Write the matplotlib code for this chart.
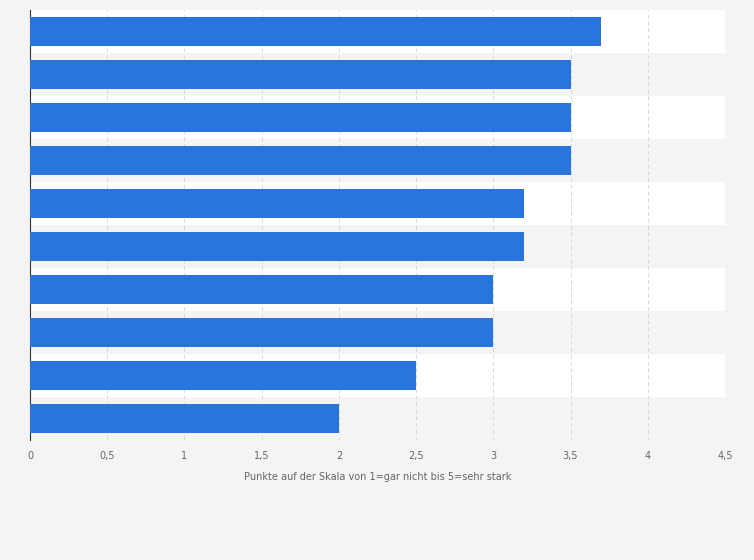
import matplotlib
matplotlib.use("Agg")
import matplotlib.pyplot as plt

values = [3.7, 3.5, 3.5, 3.5, 3.2, 3.2, 3.0, 3.0, 2.5, 2.0]
xticks = [0, 0.5, 1, 1.5, 2, 2.5, 3, 3.5, 4, 4.5]
xticklabels = ["0", "0,5", "1", "1,5", "2", "2,5", "3", "3,5", "4", "4,5"]
xlabel = "Punkte auf der Skala von 1=gar nicht bis 5=sehr stark"

fig = plt.figure(figsize=(7.54, 5.60), dpi=100)
fig.patch.set_facecolor("#f4f4f4")
ax = fig.add_axes([30/754, 1-440/560, 695/754, 430/560])
ax.set_facecolor("white")
n = len(values)
ys = list(range(n))
for i in ys:
    if i % 2 == 1:
        ax.axhspan(i-0.5, i+0.5, color="#f4f4f4", zorder=0, lw=0)
ax.barh(ys, values, height=0.68, color="#2876dd", zorder=3)
ax.set_ylim(n-0.5, -0.5)
ax.set_xlim(0, 4.5)
ax.set_xticks(xticks)
ax.set_xticklabels(xticklabels, fontsize=7, color="#666666")
ax.set_yticks([])
ax.tick_params(axis="x", length=0, pad=8)
ax.grid(axis="x", color="#d8d8d8", linestyle=(0, (4, 3)), lw=0.7, zorder=1)
for s in ["top", "right", "bottom"]:
    ax.spines[s].set_visible(False)
ax.spines["left"].set_color("#333333")
ax.set_xlabel(xlabel, fontsize=7, color="#666666", labelpad=8)
fig.savefig("out.png", dpi=100, facecolor=fig.get_facecolor())
